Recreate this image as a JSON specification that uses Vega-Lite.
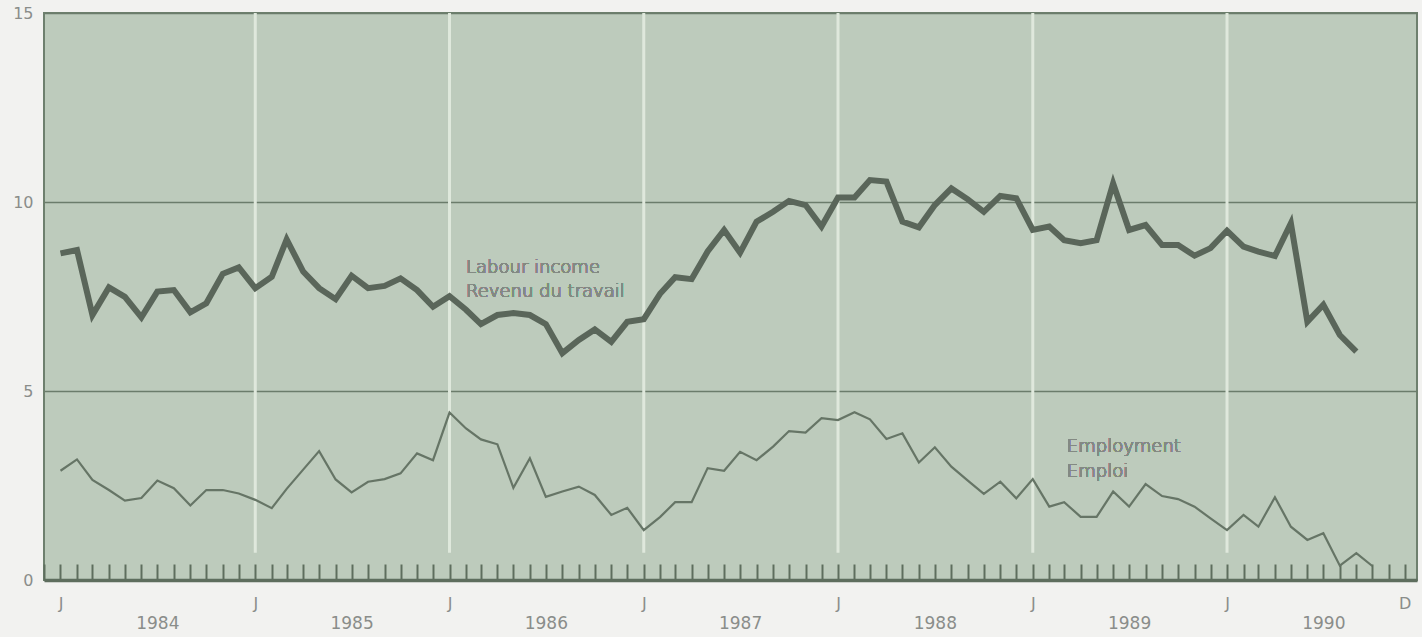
{
  "$schema": "https://vega.github.io/schema/vega-lite/v6.json",
  "width": 1373,
  "height": 567,
  "autosize": {"type": "none"},
  "padding": {"left": 44, "top": 13, "right": 5, "bottom": 57},
  "background": "#f2f2f0",
  "config": {
    "view": {"fill": "#bdcbbc", "stroke": "#6e806e", "strokeWidth": 2},
    "font": "DejaVu Sans",
    "axis": {"labelFont": "DejaVu Sans", "labelColor": "#8a8d8a", "labelFontSize": 16}
  },
  "data": {"values": [
    {"d": "1984/01/01", "li": 8.64, "em": 2.89},
    {"d": "1984/02/01", "li": 8.73, "em": 3.19},
    {"d": "1984/03/01", "li": 7.01, "em": 2.65},
    {"d": "1984/04/01", "li": 7.74, "em": 2.38},
    {"d": "1984/05/01", "li": 7.49, "em": 2.10},
    {"d": "1984/06/01", "li": 6.95, "em": 2.17},
    {"d": "1984/07/01", "li": 7.63, "em": 2.63},
    {"d": "1984/08/01", "li": 7.67, "em": 2.43},
    {"d": "1984/09/01", "li": 7.08, "em": 1.97},
    {"d": "1984/10/01", "li": 7.32, "em": 2.38},
    {"d": "1984/11/01", "li": 8.10, "em": 2.38},
    {"d": "1984/12/01", "li": 8.27, "em": 2.29},
    {"d": "1985/01/01", "li": 7.72, "em": 2.12},
    {"d": "1985/02/01", "li": 8.02, "em": 1.90},
    {"d": "1985/03/01", "li": 9.01, "em": 2.41},
    {"d": "1985/04/01", "li": 8.16, "em": 2.92},
    {"d": "1985/05/01", "li": 7.72, "em": 3.41},
    {"d": "1985/06/01", "li": 7.43, "em": 2.66},
    {"d": "1985/07/01", "li": 8.05, "em": 2.32},
    {"d": "1985/08/01", "li": 7.72, "em": 2.60},
    {"d": "1985/09/01", "li": 7.78, "em": 2.67},
    {"d": "1985/10/01", "li": 7.98, "em": 2.82},
    {"d": "1985/11/01", "li": 7.67, "em": 3.35},
    {"d": "1985/12/01", "li": 7.23, "em": 3.17},
    {"d": "1986/01/01", "li": 7.51, "em": 4.43},
    {"d": "1986/02/01", "li": 7.15, "em": 4.01},
    {"d": "1986/03/01", "li": 6.77, "em": 3.72},
    {"d": "1986/04/01", "li": 7.01, "em": 3.59},
    {"d": "1986/05/01", "li": 7.06, "em": 2.44},
    {"d": "1986/06/01", "li": 7.01, "em": 3.22},
    {"d": "1986/07/01", "li": 6.77, "em": 2.20},
    {"d": "1986/08/01", "li": 6.00, "em": 2.34},
    {"d": "1986/09/01", "li": 6.35, "em": 2.47},
    {"d": "1986/10/01", "li": 6.63, "em": 2.25},
    {"d": "1986/11/01", "li": 6.30, "em": 1.72},
    {"d": "1986/12/01", "li": 6.83, "em": 1.91},
    {"d": "1987/01/01", "li": 6.90, "em": 1.32},
    {"d": "1987/02/01", "li": 7.58, "em": 1.67},
    {"d": "1987/03/01", "li": 8.01, "em": 2.06},
    {"d": "1987/04/01", "li": 7.96, "em": 2.06},
    {"d": "1987/05/01", "li": 8.69, "em": 2.96},
    {"d": "1987/06/01", "li": 9.26, "em": 2.89},
    {"d": "1987/07/01", "li": 8.66, "em": 3.39},
    {"d": "1987/08/01", "li": 9.48, "em": 3.17},
    {"d": "1987/09/01", "li": 9.74, "em": 3.53},
    {"d": "1987/10/01", "li": 10.03, "em": 3.94},
    {"d": "1987/11/01", "li": 9.92, "em": 3.90},
    {"d": "1987/12/01", "li": 9.35, "em": 4.28},
    {"d": "1988/01/01", "li": 10.12, "em": 4.23},
    {"d": "1988/02/01", "li": 10.12, "em": 4.44},
    {"d": "1988/03/01", "li": 10.58, "em": 4.25},
    {"d": "1988/04/01", "li": 10.54, "em": 3.73},
    {"d": "1988/05/01", "li": 9.48, "em": 3.88},
    {"d": "1988/06/01", "li": 9.33, "em": 3.11},
    {"d": "1988/07/01", "li": 9.92, "em": 3.51},
    {"d": "1988/08/01", "li": 10.36, "em": 3.00},
    {"d": "1988/09/01", "li": 10.07, "em": 2.63},
    {"d": "1988/10/01", "li": 9.74, "em": 2.28},
    {"d": "1988/11/01", "li": 10.16, "em": 2.60},
    {"d": "1988/12/01", "li": 10.10, "em": 2.16},
    {"d": "1989/01/01", "li": 9.26, "em": 2.67},
    {"d": "1989/02/01", "li": 9.35, "em": 1.94},
    {"d": "1989/03/01", "li": 8.99, "em": 2.06},
    {"d": "1989/04/01", "li": 8.91, "em": 1.67},
    {"d": "1989/05/01", "li": 8.99, "em": 1.67},
    {"d": "1989/06/01", "li": 10.49, "em": 2.34},
    {"d": "1989/07/01", "li": 9.26, "em": 1.94},
    {"d": "1989/08/01", "li": 9.39, "em": 2.54},
    {"d": "1989/09/01", "li": 8.86, "em": 2.22},
    {"d": "1989/10/01", "li": 8.86, "em": 2.14},
    {"d": "1989/11/01", "li": 8.58, "em": 1.94},
    {"d": "1989/12/01", "li": 8.78, "em": 1.63},
    {"d": "1990/01/01", "li": 9.24, "em": 1.32},
    {"d": "1990/02/01", "li": 8.82, "em": 1.72},
    {"d": "1990/03/01", "li": 8.69, "em": 1.41},
    {"d": "1990/04/01", "li": 8.57, "em": 2.19},
    {"d": "1990/05/01", "li": 9.44, "em": 1.41},
    {"d": "1990/06/01", "li": 6.83, "em": 1.06},
    {"d": "1990/07/01", "li": 7.28, "em": 1.24},
    {"d": "1990/08/01", "li": 6.48, "em": 0.38},
    {"d": "1990/09/01", "li": 6.04, "em": 0.71},
    {"d": "1990/10/01", "li": null, "em": 0.37}
  ]},
  "resolve": {"axis": {"x": "independent", "y": "independent"}},
  "layer": [
    {
      "data": {"values": [
        {"yr": "1985/01/01"}, {"yr": "1986/01/01"}, {"yr": "1987/01/01"},
        {"yr": "1988/01/01"}, {"yr": "1989/01/01"}, {"yr": "1990/01/01"}
      ]},
      "mark": {"type": "rule", "color": "#dfe8dc", "strokeWidth": 3},
      "encoding": {
        "x": {
          "field": "yr", "type": "temporal", "title": null,
          "scale": {"domain": [{"year": 1983, "month": 12, "date": 1}, {"year": 1990, "month": 12, "date": 24}]},
          "axis": {
            "orient": "bottom",
            "values": [
              {"year": 1984, "month": 7, "date": 1}, {"year": 1985, "month": 7, "date": 1},
              {"year": 1986, "month": 7, "date": 1}, {"year": 1987, "month": 7, "date": 1},
              {"year": 1988, "month": 7, "date": 1}, {"year": 1989, "month": 7, "date": 1},
              {"year": 1990, "month": 7, "date": 1}
            ],
            "format": "%Y",
            "ticks": false, "domain": false, "grid": false,
            "labelPadding": 35, "labelFontSize": 17, "labelFlush": false, "labelOverlap": false
          }
        },
        "y": {
          "datum": 0.72, "type": "quantitative", "title": null,
          "scale": {"domain": [0, 15], "nice": false},
          "axis": {
            "orient": "left",
            "values": [0, 5, 10, 15], "grid": true, "gridColor": "#6b7c6b", "gridWidth": 1.5,
            "ticks": false, "domain": false, "labelPadding": 11, "labelFontSize": 16
          }
        },
        "y2": {"datum": 15}
      }
    },
    {
      "mark": {"type": "line", "color": "#5a665a", "strokeWidth": 6},
      "encoding": {
        "x": {
          "field": "d", "type": "temporal", "title": null,
          "scale": {"domain": [{"year": 1983, "month": 12, "date": 1}, {"year": 1990, "month": 12, "date": 24}]},
          "axis": {
            "orient": "bottom",
            "tickCount": {"interval": "month", "step": 1},
            "labels": false, "ticks": true, "tickSize": -16, "tickWidth": 2, "tickColor": "#5e6e5e",
            "domain": true, "domainColor": "#5e6e5e", "domainWidth": 3.5, "grid": false
          }
        },
        "y": {"field": "li", "type": "quantitative", "scale": {"domain": [0, 15], "nice": false}, "axis": null}
      }
    },
    {
      "mark": {"type": "line", "color": "#667566", "strokeWidth": 2.2},
      "encoding": {
        "x": {
          "field": "d", "type": "temporal", "title": null,
          "scale": {"domain": [{"year": 1983, "month": 12, "date": 1}, {"year": 1990, "month": 12, "date": 24}]},
          "axis": {
            "orient": "bottom",
            "values": [
              {"year": 1984, "month": 1, "date": 1}, {"year": 1985, "month": 1, "date": 1},
              {"year": 1986, "month": 1, "date": 1}, {"year": 1987, "month": 1, "date": 1},
              {"year": 1988, "month": 1, "date": 1}, {"year": 1989, "month": 1, "date": 1},
              {"year": 1990, "month": 1, "date": 1}, {"year": 1990, "month": 12, "date": 1}
            ],
            "labelExpr": "month(datum.value) == 0 ? 'J' : 'D'",
            "ticks": false, "domain": false, "grid": false,
            "labelPadding": 15, "labelFontSize": 16, "labelFlush": false, "labelOverlap": false
          }
        },
        "y": {"field": "em", "type": "quantitative", "scale": {"domain": [0, 15], "nice": false}, "axis": null}
      }
    },
    {
      "mark": {"type": "text", "text": "Labour income", "align": "left", "baseline": "alphabetic", "fontSize": 18, "fontWeight": 300, "color": "#838983"},
      "encoding": {
        "x": {"datum": {"year": 1986, "month": 2, "date": 1}, "type": "temporal", "scale": {"domain": [{"year": 1983, "month": 12, "date": 1}, {"year": 1990, "month": 12, "date": 24}]}, "axis": null},
        "y": {"datum": 8.13, "type": "quantitative", "scale": {"domain": [0, 15], "nice": false}, "axis": null}
      }
    },
    {
      "mark": {"type": "text", "text": "Revenu du travail", "align": "left", "baseline": "alphabetic", "fontSize": 18, "fontWeight": 300, "color": "#838983"},
      "encoding": {
        "x": {"datum": {"year": 1986, "month": 2, "date": 1}, "type": "temporal", "scale": {"domain": [{"year": 1983, "month": 12, "date": 1}, {"year": 1990, "month": 12, "date": 24}]}, "axis": null},
        "y": {"datum": 7.49, "type": "quantitative", "scale": {"domain": [0, 15], "nice": false}, "axis": null}
      }
    },
    {
      "mark": {"type": "text", "text": "Employment", "align": "left", "baseline": "alphabetic", "fontSize": 18, "fontWeight": 300, "color": "#838983"},
      "encoding": {
        "x": {"datum": {"year": 1989, "month": 3, "date": 6}, "type": "temporal", "scale": {"domain": [{"year": 1983, "month": 12, "date": 1}, {"year": 1990, "month": 12, "date": 24}]}, "axis": null},
        "y": {"datum": 3.39, "type": "quantitative", "scale": {"domain": [0, 15], "nice": false}, "axis": null}
      }
    },
    {
      "mark": {"type": "text", "text": "Emploi", "align": "left", "baseline": "alphabetic", "fontSize": 18, "fontWeight": 300, "color": "#838983"},
      "encoding": {
        "x": {"datum": {"year": 1989, "month": 3, "date": 6}, "type": "temporal", "scale": {"domain": [{"year": 1983, "month": 12, "date": 1}, {"year": 1990, "month": 12, "date": 24}]}, "axis": null},
        "y": {"datum": 2.73, "type": "quantitative", "scale": {"domain": [0, 15], "nice": false}, "axis": null}
      }
    }
  ]
}
